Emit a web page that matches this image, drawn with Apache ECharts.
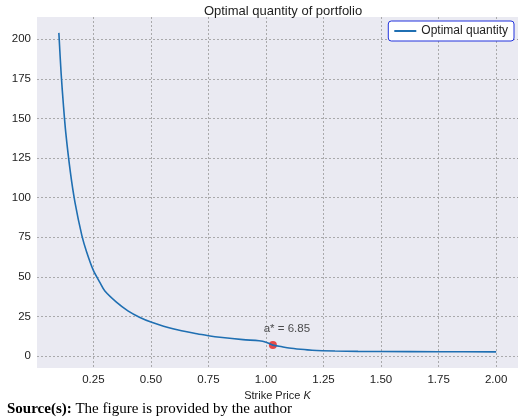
<!DOCTYPE html><html><head><meta charset="utf-8">
<script src="https://cdn.jsdelivr.net/npm/echarts@6/dist/echarts.min.js"></script>
<style>body{margin:0;background:#fff}#c{width:520px;height:419px}</style></head><body><div id="c"></div>
<script>
const strikes=[0.1,0.11,0.12,0.13,0.15,0.17,0.2,0.22,0.25,0.28,0.3,0.35,0.4,0.45,0.5,0.6,0.7,0.75,0.8,0.9,0.97,1.0,1.03,1.07,1.1,1.15,1.2,1.3,1.4,1.5,1.75,2.0];
const quantity=[204,178,158,141,116,97,76,66,54,46,41,34,28.5,24.5,21.5,17,14,12.8,11.8,10.3,9.6,8.7,6.85,5.8,5.0,4.2,3.6,3.1,2.9,2.8,2.7,2.6];
const optimalK=1.03, optimalA=6.85;
const yTicks=[0,25,50,75,100,125,150,175,200];
const xTicks=[0.25,0.5,0.75,1.0,1.25,1.5,1.75,2.0];
const F='Liberation Sans';
const c=echarts.init(document.getElementById('c'));
c.setOption({
 backgroundColor:'#fff',
 textStyle:{fontFamily:F},
 title:[{text:'Optimal quantity of portfolio',left:278,top:0,textAlign:'center',textStyle:{fontFamily:F,fontSize:13,fontWeight:'normal',color:'#222'}},
  {text:'{b|Source(s):} The figure is provided by the author',left:2,top:397,textStyle:{fontFamily:'Liberation Serif',fontSize:15,fontWeight:'normal',color:'#000',rich:{b:{fontFamily:'Liberation Serif',fontSize:15,fontWeight:'bold',color:'#000'}}}}],
 legend:{right:6,top:21,data:['Optimal quantity'],itemWidth:22,itemHeight:2,icon:'rect',backgroundColor:'#fff',borderColor:'#2233dd',borderWidth:1,borderRadius:3,padding:[4,6],textStyle:{fontFamily:F,fontSize:12,color:'#222'}},
 grid:{left:37,right:2,top:17,bottom:51,containLabel:false,outerBoundsMode:'none',show:true,backgroundColor:'#EAEAF2',borderWidth:0},
 xAxis:{type:'value',min:0.005,max:2.095,name:'Strike Price {i|K}',nameLocation:'middle',nameGap:22,
  nameTextStyle:{fontFamily:F,fontSize:11,color:'#222',rich:{i:{fontStyle:'italic',fontFamily:F,fontSize:11,color:'#222'}}},
  axisLine:{show:false},axisTick:{show:false,customValues:xTicks},
  axisLabel:{customValues:xTicks,formatter:v=>v.toFixed(2),fontSize:11.5,color:'#222',margin:6},
  splitLine:{show:true,lineStyle:{color:'#999',type:[2,2],width:0.8}}},
 yAxis:{type:'value',min:-7.6,max:214,name:'Value',nameLocation:'middle',nameGap:26,nameTextStyle:{fontFamily:F,fontSize:11,color:'#222'},
  axisLine:{show:false},axisTick:{show:false,customValues:yTicks},
  axisLabel:{customValues:yTicks,fontSize:11.5,color:'#222',margin:6},
  splitLine:{show:true,lineStyle:{color:'#999',type:[2,2],width:0.8}}},
 series:[{name:'Optimal quantity',type:'line',data:strikes.map((k,i)=>[k,quantity[i]]),smooth:0.3,showSymbol:false,lineStyle:{color:'#1f6fb2',width:1.6},itemStyle:{color:'#1f6fb2'}},
  {type:'scatter',data:[[optimalK,optimalA]],symbolSize:8,itemStyle:{color:'#e8201c'},
   label:{show:true,position:'top',offset:[14,-1],formatter:'a* = '+optimalA,fontFamily:F,fontSize:11.5,color:'#222'}}]
});
</script></body></html>
